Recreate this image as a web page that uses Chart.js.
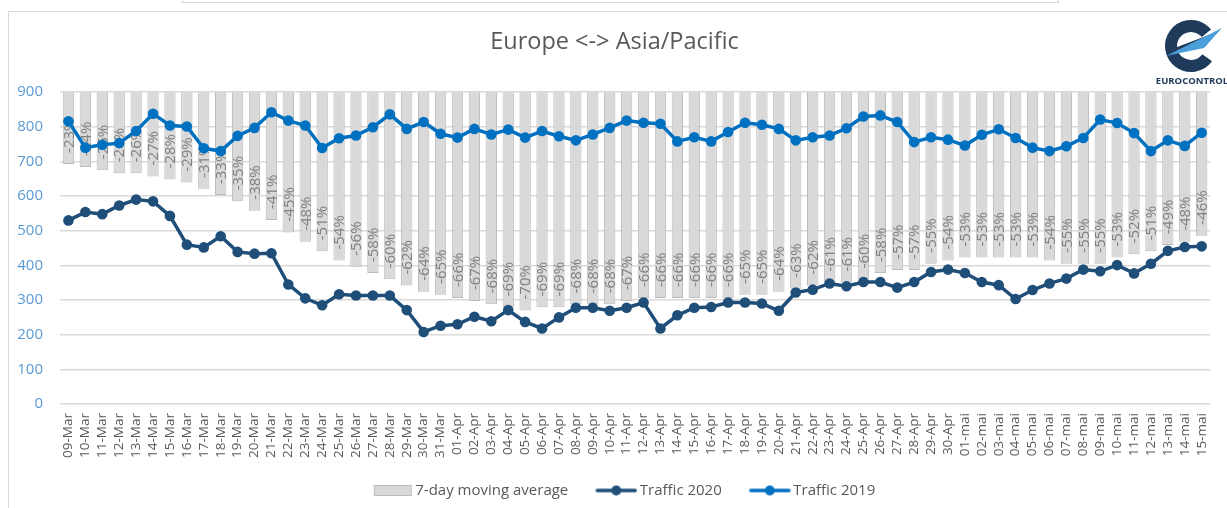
<!DOCTYPE html>
<html>
<head>
<meta charset="utf-8">
<script src="https://cdn.jsdelivr.net/npm/chart.js@4/dist/chart.umd.min.js"></script>
<style>
  html, body { margin: 0; padding: 0; background: #fff; }
  #wrap { position: relative; width: 1227px; height: 508px; overflow: hidden; }
  #frame { position: absolute; left: 8px; top: 11px; width: 1260px; height: 520px; border: 1px solid #d9d9d9; }
  #topbox { position: absolute; left: 182px; top: -10px; width: 875px; height: 11px; border: 1px solid #d9d9d9; }
  #c { position: absolute; left: 0; top: 0; }
</style>
</head>
<body>
<div id="wrap">
  <div id="topbox"></div>
  <div id="frame"></div>
  <canvas id="c" width="1227" height="508"></canvas>
</div>
<script>
// =========================
// DADOS
// =========================

const dias = [
    '09-Mar', '10-Mar', '11-Mar', '12-Mar', '13-Mar', '14-Mar', '15-Mar', '16-Mar', '17-Mar', '18-Mar',
    '19-Mar', '20-Mar', '21-Mar', '22-Mar', '23-Mar', '24-Mar', '25-Mar', '26-Mar', '27-Mar', '28-Mar',
    '29-Mar', '30-Mar', '31-Mar',
    '01-Apr', '02-Apr', '03-Apr', '04-Apr', '05-Apr', '06-Apr', '07-Apr', '08-Apr', '09-Apr', '10-Apr',
    '11-Apr', '12-Apr', '13-Apr', '14-Apr', '15-Apr', '16-Apr', '17-Apr', '18-Apr', '19-Apr', '20-Apr',
    '21-Apr', '22-Apr', '23-Apr', '24-Apr', '25-Apr', '26-Apr', '27-Apr', '28-Apr', '29-Apr', '30-Apr',
    '01-mai', '02-mai', '03-mai', '04-mai', '05-mai', '06-mai', '07-mai', '08-mai', '09-mai', '10-mai',
    '11-mai', '12-mai', '13-mai', '14-mai', '15-mai'
];

// variação média móvel 7 dias (%)
const mediaMovel = [
    -23, -24, -25, -26, -26, -27, -28, -29, -31, -33,
    -35, -38, -41, -45, -48, -51, -54, -56, -58, -60,
    -62, -64, -65,
    -66, -67, -68, -69, -70, -69, -69, -68, -68, -68,
    -67, -66, -66, -66, -66, -66, -66, -65, -65, -64,
    -63, -62, -61, -61, -60, -58, -57, -57, -55, -54,
    -53, -53, -53, -53, -53, -54, -55, -55, -55, -53,
    -52, -51, -49, -48, -46
];

const trafego2020 = [
    530, 554, 548, 573, 590, 585, 543, 460, 452, 484,
    439, 434, 435, 345, 305, 285, 317, 313, 313, 313,
    271, 208, 226,
    230, 252, 239, 271, 237, 218, 250, 278, 278, 269,
    278, 293, 218, 256, 278, 280, 293, 293, 290, 269,
    322, 330, 348, 340, 352, 352, 336, 352, 381, 388,
    378, 352, 343, 303, 329, 348, 362, 388, 383, 401,
    377, 405, 442, 453, 455
];

const trafego2019 = [
    816, 740, 748, 753, 788, 838, 804, 801, 738, 730,
    774, 797, 842, 818, 804, 739, 767, 775, 799, 836,
    794, 814, 780,
    769, 794, 778, 792, 769, 788, 773, 761, 778, 797,
    818, 812, 809, 758, 770, 758, 785, 812, 806, 794,
    761, 770, 775, 796, 830, 833, 814, 756, 770, 763,
    746, 777, 793, 768, 740, 730, 744, 768, 821, 811,
    782, 730, 761, 745, 783
];

const nomes = ['7-day moving average', 'Traffic 2020', 'Traffic 2019'];

// =========================
// CORES / FONTE
// =========================

const FONTE = "'Open Sans', sans-serif";
const corBarra = '#d9d9d9';
const corBordaBarra = '#bcbcbc';
const cor2020 = '#1f4e79';
const cor2019 = '#0070c0';
const corTexto = '#595959';

// =========================
// SÍMBOLOS DA LEGENDA
// =========================

// largura reservada ao símbolo; o desenho fica encostado à direita
const LARG_SIMBOLO = 54;
const LARG_CANVAS = LARG_SIMBOLO + 10;

function simboloBarra() {
    const cv = document.createElement('canvas');
    cv.width = LARG_CANVAS; cv.height = 11;
    const g = cv.getContext('2d');
    const x0 = LARG_CANVAS - 39;
    g.fillStyle = corBarra;
    g.fillRect(x0 + 0.5, 0.5, 37, 10);
    g.strokeStyle = corBordaBarra;
    g.lineWidth = 1;
    g.strokeRect(x0 + 0.5, 0.5, 37, 10);
    return cv;
}

function simboloLinha(cor) {
    const cv = document.createElement('canvas');
    cv.width = LARG_CANVAS; cv.height = 12;
    const g = cv.getContext('2d');
    const x0 = LARG_CANVAS - 42;
    g.strokeStyle = cor;
    g.lineWidth = 3.5;
    g.lineCap = 'round';
    g.beginPath();
    g.moveTo(x0 + 2, 6); g.lineTo(x0 + 40, 6);
    g.stroke();
    g.fillStyle = cor;
    g.beginPath();
    g.arc(x0 + 21, 6, 5, 0, Math.PI * 2);
    g.fill();
    return cv;
}

const simbolos = [simboloBarra(), simboloLinha(cor2020), simboloLinha(cor2019)];

// =========================
// PLUGINS
// =========================

// rótulos -xx% dentro das barras
const rotulosBarras = {
    id: 'rotulosBarras',
    afterDatasetDraw(chart, args) {
        if (args.index !== 0) return;
        const ctx = chart.ctx;
        ctx.save();
        ctx.font = '15px ' + FONTE;
        ctx.fillStyle = '#808080';
        ctx.textAlign = 'left';
        ctx.textBaseline = 'middle';
        args.meta.data.forEach((bar, i) => {
            ctx.save();
            ctx.translate(bar.x, bar.y - 11);
            ctx.rotate(-Math.PI / 2);
            ctx.fillText(mediaMovel[i] + '%', 0, 1);
            ctx.restore();
        });
        ctx.restore();
    }
};

// logo EUROCONTROL
const logo = {
    id: 'logo',
    afterDraw(chart) {
        const ctx = chart.ctx;
        const cx = 1191, cy = 46;
        ctx.save();
        ctx.strokeStyle = '#203a5c';
        ctx.lineWidth = 12;
        ctx.beginPath();
        ctx.arc(cx, cy, 20, 0.2 * Math.PI, 1.78 * Math.PI);
        ctx.stroke();
        ctx.fillStyle = '#203a5c';
        ctx.beginPath();
        ctx.moveTo(1172, 49);
        ctx.lineTo(1214, 33);
        ctx.lineTo(1206, 46);
        ctx.lineTo(1178, 50);
        ctx.closePath();
        ctx.fill();
        ctx.fillStyle = '#4a9fd8';
        ctx.beginPath();
        ctx.moveTo(1166, 56);
        ctx.lineTo(1222, 28);
        ctx.lineTo(1204, 48);
        ctx.lineTo(1180, 53);
        ctx.closePath();
        ctx.fill();
        ctx.fillStyle = '#203a5c';
        ctx.font = 'bold 9.5px ' + FONTE;
        ctx.textAlign = 'center';
        ctx.textBaseline = 'middle';
        ctx.fillText('EUROCONTROL', 1192, 81);
        ctx.restore();
    }
};

// =========================
// GRÁFICO
// =========================

const grafico = new Chart(
    document.getElementById('c'),
    {
        data: {
            labels: dias,
            datasets: [
                {
                    type: 'bar',
                    label: nomes[0],
                    data: mediaMovel,
                    yAxisID: 'y2',
                    backgroundColor: corBarra,
                    borderColor: corBordaBarra,
                    borderWidth: 1,
                    borderSkipped: false,
                    barPercentage: 0.67,
                    categoryPercentage: 1,
                    order: 3
                },
                {
                    type: 'line',
                    label: nomes[1],
                    data: trafego2020,
                    yAxisID: 'y',
                    borderColor: cor2020,
                    backgroundColor: cor2020,
                    borderWidth: 3.5,
                    pointRadius: 5.3,
                    pointBackgroundColor: cor2020,
                    pointBorderWidth: 0,
                    tension: 0,
                    order: 1
                },
                {
                    type: 'line',
                    label: nomes[2],
                    data: trafego2019,
                    yAxisID: 'y',
                    borderColor: cor2019,
                    backgroundColor: cor2019,
                    borderWidth: 3.5,
                    pointRadius: 5.3,
                    pointBackgroundColor: cor2019,
                    pointBorderWidth: 0,
                    tension: 0,
                    order: 2
                }
            ]
        },
        options: {
            responsive: false,
            animation: false,
            layout: { padding: { left: 17, right: 15, top: 0, bottom: 0 } },
            plugins: {
                title: {
                    display: true,
                    text: 'Europe <-> Asia/Pacific',
                    color: corTexto,
                    font: { family: FONTE, size: 23.5, weight: 'normal' },
                    padding: { top: 28, bottom: 36 }
                },
                legend: {
                    position: 'bottom',
                    labels: {
                        font: { family: FONTE, size: 15 },
                        color: corTexto,
                        padding: 10,
                        usePointStyle: true,
                        pointStyleWidth: LARG_SIMBOLO,
                        generateLabels: () => nomes.map((n, i) => ({
                            text: n,
                            pointStyle: simbolos[i],
                            fillStyle: 'transparent',
                            strokeStyle: 'transparent',
                            lineWidth: 0,
                            fontColor: corTexto,
                            datasetIndex: i
                        }))
                    }
                },
                tooltip: { enabled: false }
            },
            scales: {
                x: {
                    offset: true,
                    grid: { display: false, drawTicks: false },
                    border: { display: false },
                    ticks: {
                        autoSkip: false,
                        maxRotation: 90,
                        minRotation: 90,
                        padding: 9,
                        color: corTexto,
                        font: { family: FONTE, size: 13.5 }
                    },
                    afterFit(scale) { scale.height = 69; }
                },
                y: {
                    min: 0,
                    max: 900,
                    grid: { color: '#d9d9d9', lineWidth: 1.5, drawTicks: false },
                    border: { display: false },
                    ticks: {
                        stepSize: 100,
                        padding: 17,
                        color: '#5b9bd5',
                        font: { family: FONTE, size: 15 }
                    },
                    afterFit(scale) { scale.width = 43; }
                },
                y2: {
                    display: false,
                    min: -100,
                    max: 0
                }
            }
        },
        plugins: [rotulosBarras, logo]
    }
);
</script>
</body>
</html>
